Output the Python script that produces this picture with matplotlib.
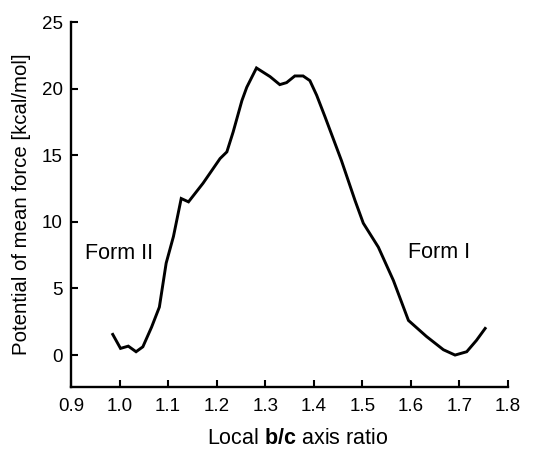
import matplotlib
matplotlib.use("Agg")
import matplotlib.pyplot as plt

plt.rcParams['font.family'] = ['Liberation Sans', 'DejaVu Sans']
plt.rcParams['mathtext.fontset'] = 'custom'
plt.rcParams['mathtext.rm'] = 'Liberation Sans'
plt.rcParams['mathtext.bf'] = 'Liberation Sans:bold'

# potential of mean force along the local b/c axis ratio
ratio = [0.986, 1.002, 1.018, 1.034, 1.048, 1.066, 1.082, 1.096, 1.111, 1.127,
         1.142, 1.172, 1.207, 1.221, 1.234, 1.252, 1.262, 1.282, 1.310, 1.330,
         1.344, 1.361, 1.378, 1.392, 1.406, 1.423, 1.457, 1.485, 1.502, 1.533,
         1.564, 1.595, 1.632, 1.667, 1.691, 1.715, 1.735, 1.753]
pmf = [1.55, 0.5, 0.67, 0.25, 0.62, 2.1, 3.6, 6.9, 8.9, 11.75,
       11.5, 12.9, 14.75, 15.25, 16.75, 19.1, 20.1, 21.55, 20.9, 20.3,
       20.45, 20.95, 20.95, 20.6, 19.5, 17.9, 14.6, 11.6, 9.9, 8.1,
       5.6, 2.6, 1.4, 0.4, 0.0, 0.25, 1.1, 2.0]

xticks = [0.9, 1.0, 1.1, 1.2, 1.3, 1.4, 1.5, 1.6, 1.7, 1.8]
yticks = [0, 5, 10, 15, 20, 25]

fig = plt.figure(figsize=(5.35, 4.49), dpi=100)
ax = fig.add_axes([0.1327, 0.138, 0.8168, 0.813])

ax.plot(ratio, pmf, color='black', lw=2.1, solid_joinstyle='miter')

ax.set_xlim(0.9, 1.8)
ax.set_ylim(-2.4, 25)
ax.set_xticks(xticks)
ax.set_xticklabels([f"{t:.1f}" for t in xticks])
ax.set_yticks(yticks)

for side in ('top', 'right'):
    ax.spines[side].set_visible(False)
for side in ('left', 'bottom'):
    ax.spines[side].set_linewidth(1.7)

ax.tick_params(direction='in', length=5, width=1.5, labelsize=13.5)
ax.tick_params(axis='y', pad=6)
ax.tick_params(axis='x', pad=8)

ax.text(0.928, 7.6, "Form II", fontsize=15.5, va='center', ha='left')
ax.text(1.594, 7.7, "Form I", fontsize=15.5, va='center', ha='left')

ax.set_xlabel(r"Local $\mathbf{b/c}$ axis ratio", fontsize=15.5)
ax.xaxis.set_label_coords(0.52, -0.112)
ax.set_ylabel("Potential of mean force [kcal/mol]", fontsize=14.7, labelpad=8)

fig.savefig("out.png", dpi=100)
